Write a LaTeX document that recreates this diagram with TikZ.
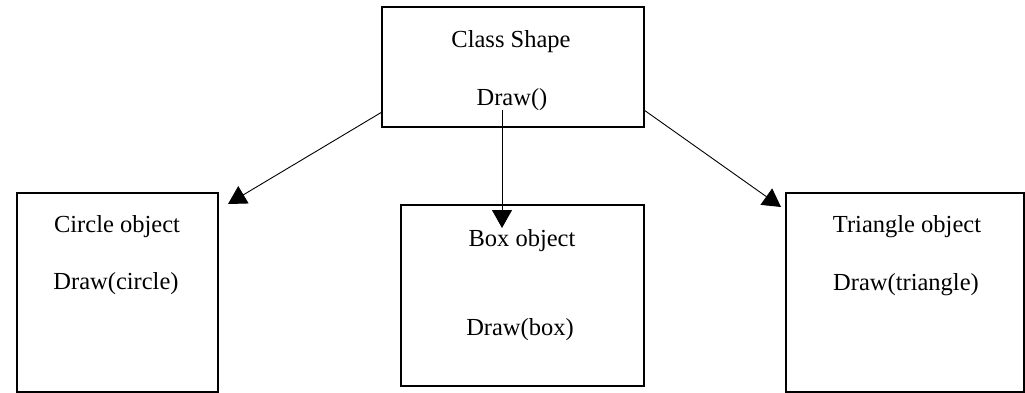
\documentclass[tikz,border=0pt]{standalone}
\usepackage{fontspec}
\setmainfont{Liberation Serif}
\usetikzlibrary{arrows.meta}
\begin{document}
\begin{tikzpicture}[x=1pt,y=-1pt,
  objbox/.style={draw=black,line width=1.8pt,rectangle,inner sep=0pt},
  lbl/.style={inner sep=0pt,anchor=base,font=\fontsize{24.5}{28}\selectfont},
  conn/.style={draw=black,line width=0.9pt,-{Triangle[length=18pt,width=20pt]}}]
\useasboundingbox (0,0) rectangle (1025,393);
\fill[white] (0,0) rectangle (1025,393);
\node[objbox,minimum width=262pt,minimum height=120pt] (shape) at (513,67) {};
\node[objbox,minimum width=201pt,minimum height=199pt] (circ) at (117.5,292.5) {};
\node[objbox,minimum width=243pt,minimum height=181pt] (boxo) at (522.5,295.5) {};
\node[objbox,minimum width=238pt,minimum height=199pt] (tri) at (905,292.5) {};
\node[lbl] (t1) at (511,48) {Class Shape};
\node[lbl] (t2) at (512,106) {Draw()};
\node[lbl] (t3) at (117,232) {Circle object};
\node[lbl] (t4) at (116,289) {Draw(circle)};
\node[lbl] (t5) at (522,246) {Box object};
\node[lbl] (t6) at (520,335) {Draw(box)};
\node[lbl] (t7) at (907,232) {Triangle object};
\node[lbl] (t8) at (906,290) {Draw(triangle)};
\coordinate (sL) at (382,112);
\coordinate (sR) at (644,110);
\coordinate (sM) at (502,110);
\coordinate (eL) at (228,204);
\coordinate (eR) at (781,207);
\coordinate (eM) at (502,228);
\draw[conn] (sL) -- (eL);
\draw[conn] (sR) -- (eR);
\draw[conn] (sM) -- (eM);
\end{tikzpicture}
\end{document}
